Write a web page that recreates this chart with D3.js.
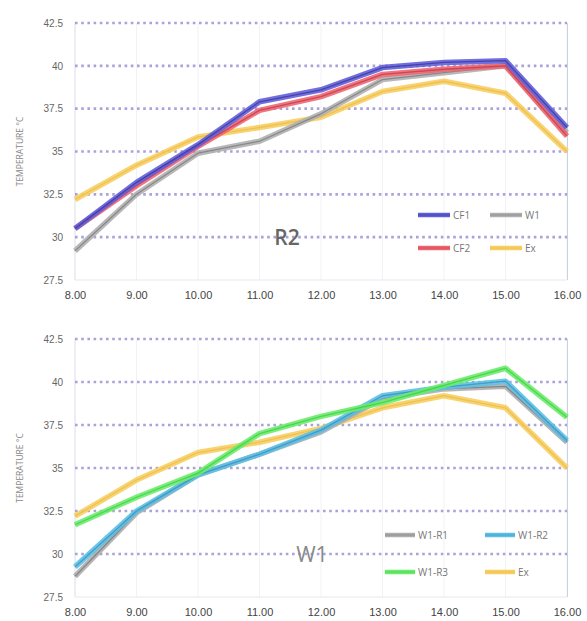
<!DOCTYPE html>
<html><head><meta charset="utf-8">
<script src="https://cdn.jsdelivr.net/npm/d3@7"></script>
<style>body{margin:0;background:#fff;}svg{display:block;font-family:"Open Sans","DejaVu Sans",sans-serif;}</style>
</head><body>
<script>
const hours = ["8.00","9.00","10.00","11.00","12.00","13.00","14.00","15.00","16.00"];
const yTicks = [27.5, 30, 32.5, 35, 37.5, 40, 42.5];
const yTickLabels = ["27.5","30","32.5","35","37.5","40","42.5"];

// Chart R2
const r2CF1 = [30.5, 33.2, 35.4, 37.9, 38.6, 39.9, 40.2, 40.3, 36.4];
const r2CF2 = [30.5, 33.0, 35.3, 37.4, 38.2, 39.5, 39.8, 40.0, 35.9];
const r2W1  = [29.2, 32.5, 34.9, 35.6, 37.2, 39.2, 39.6, 40.0, 36.1];
const r2Ex  = [32.2, 34.2, 35.85, 36.4, 37.0, 38.5, 39.1, 38.4, 35.0];

// Chart W1
const w1R1 = [28.7, 32.4, 34.6, 35.8, 37.1, 39.05, 39.6, 39.75, 36.5];
const w1R2 = [29.25, 32.5, 34.6, 35.8, 37.2, 39.2, 39.7, 40.05, 36.6];
const w1R3 = [31.7, 33.3, 34.7, 37.0, 38.0, 38.8, 39.8, 40.8, 37.95];
const w1Ex = [32.2, 34.3, 35.9, 36.5, 37.3, 38.5, 39.2, 38.5, 35.0];

const W = 587, H = 621;
const svg = d3.select("body").append("svg").attr("width", W).attr("height", H);

const styles = {
  CF1: {c: "#5f5fdc", d: "#3a2e90"},
  CF2: {c: "#f06670", d: "#b83448"},
  W1:  {c: "#b0b0b0", d: "#747474"},
  Ex:  {c: "#f7cf62", d: "#ecb848"},
  "W1-R1": {c: "#aeaeae", d: "#707070"},
  "W1-R2": {c: "#5cc0e6", d: "#348cba"},
  "W1-R3": {c: "#6aec6a", d: "#3cc844"}
};

function drawChart(top, bottom, series, legendOrder, label, labelX, labelStyle, legendPos) {
  const g = svg.append("g");
  const x = d3.scalePoint().domain(hours).range([75, 567]);
  const y = d3.scaleLinear().domain([27.5, 42.5]).range([bottom, top]);

  g.selectAll("line.vg").data(hours).join("line")
    .attr("x1", d => x(d)).attr("x2", d => x(d))
    .attr("y1", top).attr("y2", bottom)
    .attr("stroke", "#f2f2f5").attr("stroke-width", 1);
  g.append("line").attr("x1", 75).attr("x2", 75).attr("y1", top).attr("y2", bottom)
    .attr("stroke", "#e2e4ec");
  g.append("line").attr("x1", 567.5).attr("x2", 567.5).attr("y1", top).attr("y2", bottom)
    .attr("stroke", "#c8d2e2");
  g.append("line").attr("x1", 75).attr("x2", 567).attr("y1", bottom).attr("y2", bottom)
    .attr("stroke", "#e6e8ee");

  g.selectAll("line.hg").data(yTicks.slice(1)).join("line")
    .attr("x1", 75).attr("x2", 567)
    .attr("y1", d => y(d)).attr("y2", d => y(d))
    .attr("stroke", "#aaa2da").attr("stroke-width", 2.6)
    .attr("stroke-dasharray", "2.6,3.6");

  const ya = d3.axisLeft(y).tickValues(yTicks).tickFormat((d, i) => yTickLabels[i]).tickSize(0).tickPadding(12);
  const yg = g.append("g").attr("transform", "translate(75,0)").call(ya);
  yg.select(".domain").remove();
  yg.selectAll("text").attr("fill", "#666").attr("font-size", 10);

  const xa = d3.axisBottom(x).tickSize(0).tickPadding(11);
  const xg = g.append("g").attr("transform", `translate(0,${bottom})`).call(xa);
  xg.select(".domain").remove();
  xg.selectAll("text").attr("fill", "#444").attr("font-size", 11);

  g.append("text")
    .attr("transform", `translate(23,${(top + bottom) / 2}) rotate(-90)`)
    .attr("text-anchor", "middle").attr("font-size", 8.5).attr("fill", "#888")
    .text("TEMPERATURE °C");

  g.append("text").attr("x", labelX).attr("y", y(30) + 8)
    .attr("font-size", 21).attr("fill", labelStyle.fill).attr("font-weight", labelStyle.weight)
    .attr("text-anchor", "middle")
    .text(label);

  const line = d3.line().x((d, i) => x(hours[i])).y(d => y(d));
  series.forEach(s => {
    const st = styles[s.name];
    g.append("path").datum(s.values).attr("d", line)
      .attr("fill", "none").attr("stroke", st.c).attr("stroke-width", 5.5)
      .attr("stroke-linejoin", "round").attr("opacity", 0.9);
    g.append("path").datum(s.values).attr("d", line)
      .attr("fill", "none").attr("stroke", st.d).attr("stroke-width", 1.3)
      .attr("stroke-linejoin", "round").attr("opacity", 0.7);
  });

  legendOrder.forEach((name, i) => {
    const st = styles[name];
    const col = i % 2, row = Math.floor(i / 2);
    const lx = legendPos.x[col], ly = legendPos.y[row];
    g.append("line").attr("x1", lx).attr("x2", lx + legendPos.len).attr("y1", ly).attr("y2", ly)
      .attr("stroke", st.c).attr("stroke-width", 4.5);
    g.append("line").attr("x1", lx).attr("x2", lx + legendPos.len).attr("y1", ly).attr("y2", ly)
      .attr("stroke", st.d).attr("stroke-width", 1).attr("opacity", 0.5);
    g.append("text").attr("x", lx + legendPos.len + 3).attr("y", ly + 3.5)
      .attr("font-size", 10).attr("fill", "#777").text(name);
  });
}

drawChart(23, 280,
  [{name: "Ex", values: r2Ex}, {name: "W1", values: r2W1}, {name: "CF2", values: r2CF2}, {name: "CF1", values: r2CF1}],
  ["CF1", "W1", "CF2", "Ex"], "R2", 287, {fill: "#666", weight: 600},
  {x: [418, 490], y: [215, 248], len: 32});

drawChart(339, 597,
  [{name: "Ex", values: w1Ex}, {name: "W1-R1", values: w1R1}, {name: "W1-R2", values: w1R2}, {name: "W1-R3", values: w1R3}],
  ["W1-R1", "W1-R2", "W1-R3", "Ex"], "W1", 312, {fill: "#888", weight: 400},
  {x: [385, 485], y: [535, 572], len: 30});
</script>
</body></html>
